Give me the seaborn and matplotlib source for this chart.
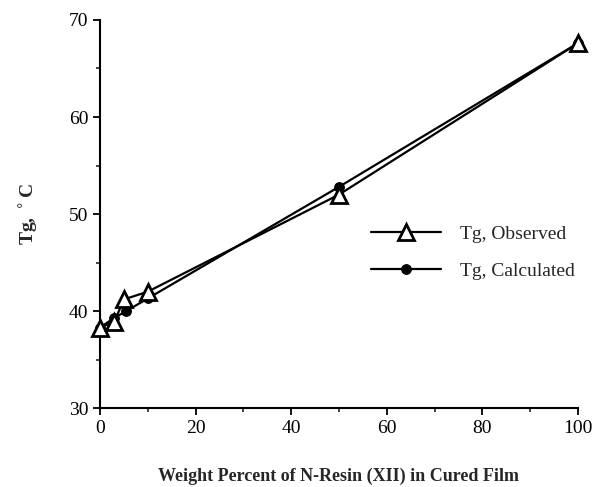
import matplotlib
matplotlib.use("Agg")
import matplotlib.pyplot as plt
import seaborn as sns
import pandas as pd
from matplotlib.ticker import MultipleLocator

x_obs = [0, 3, 5, 10, 50, 100]
tg_obs = [38.3, 38.9, 41.2, 42.0, 52.0, 67.6]
x_calc = [0, 3, 5.5, 10, 50, 100]
tg_calc = [38.3, 39.3, 40.0, 41.3, 52.8, 67.6]

sns.set_theme(style="ticks")
plt.rcParams['font.family'] = ['Liberation Serif', 'DejaVu Serif']

fig = plt.figure(figsize=(5.97, 4.87), dpi=100)
ax = fig.add_axes([0.1675, 0.162, 0.8005, 0.797])

df_obs = pd.DataFrame({"x": x_obs, "y": tg_obs})
df_calc = pd.DataFrame({"x": x_calc, "y": tg_calc})

sns.lineplot(data=df_calc, x="x", y="y", ax=ax, color="black", lw=1.6,
             marker="o", markersize=7, markeredgecolor="black",
             markerfacecolor="black", label="Tg, Calculated", zorder=2, clip_on=False)
sns.lineplot(data=df_obs, x="x", y="y", ax=ax, color="black", lw=1.6,
             marker="^", markersize=11, markeredgewidth=2,
             markerfacecolor="white", markeredgecolor="black",
             label="Tg, Observed", zorder=3, clip_on=False)

ax.set_xlim(0, 100)
ax.set_ylim(30, 70)
ax.xaxis.set_major_locator(MultipleLocator(20))
ax.xaxis.set_minor_locator(MultipleLocator(10))
ax.yaxis.set_major_locator(MultipleLocator(10))
ax.yaxis.set_minor_locator(MultipleLocator(5))
ax.tick_params(which="major", direction="out", length=5, width=1.3, labelsize=14, colors="black")
ax.tick_params(which="minor", direction="out", length=3, width=1.2)
for s in ["top", "right"]:
    ax.spines[s].set_visible(False)
for s in ["left", "bottom"]:
    ax.spines[s].set_linewidth(1.5)
    ax.spines[s].set_color("black")

ax.set_xlabel("Weight Percent of N-Resin (XII) in Cured Film", fontsize=13,
              fontweight="bold", labelpad=22)
ax.set_ylabel("Tg, $^\\circ$C", fontsize=14, fontweight="bold", labelpad=20)

handles, labels = ax.get_legend_handles_labels()
order = [1, 0]
leg = ax.legend([handles[i] for i in order], [labels[i] for i in order],
                loc="center left", bbox_to_anchor=(0.53, 0.40), frameon=False,
                fontsize=14, handlelength=3.6, labelspacing=1.0, handletextpad=1.0)

fig.savefig("out.png", dpi=100)
